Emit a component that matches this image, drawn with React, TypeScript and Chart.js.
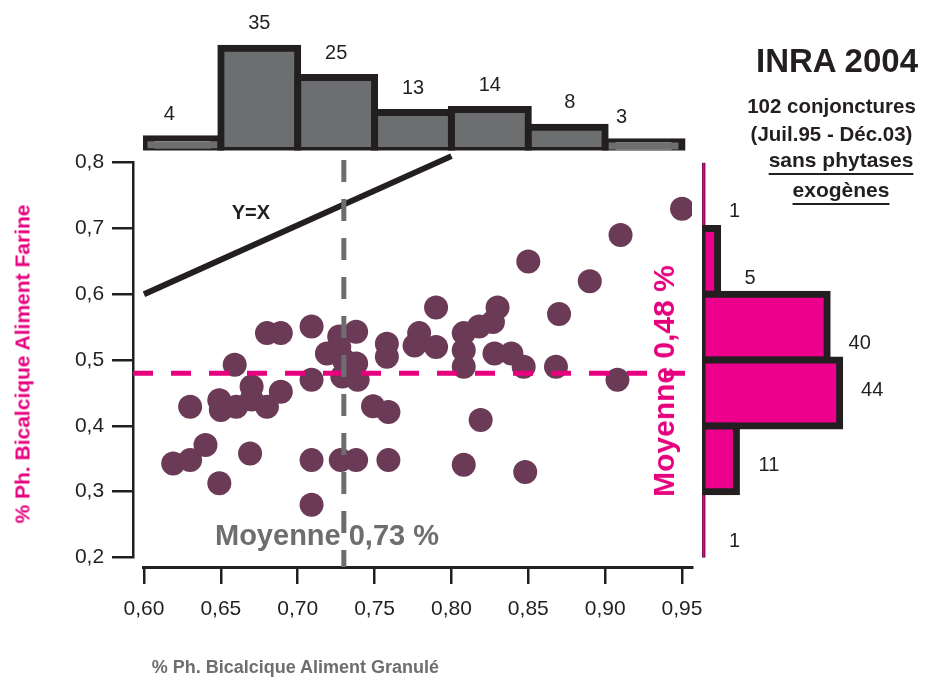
import React, { useEffect, useRef } from 'react';
import { Chart, registerables } from 'chart.js';

Chart.register(...registerables);

// ---------- data ----------
const xTicks = [0.6, 0.65, 0.7, 0.75, 0.8, 0.85, 0.9, 0.95];
const yTicks = [0.2, 0.3, 0.4, 0.5, 0.6, 0.7, 0.8];

const pointsX = [
  0.95, 0.91, 0.85, 0.89, 0.79, 0.83, 0.87, 0.827, 0.818, 0.779, 0.776, 0.79,
  0.808, 0.808, 0.808, 0.828, 0.839, 0.847, 0.868, 0.908, 0.819, 0.808, 0.848,
  0.758, 0.758, 0.749, 0.759, 0.759, 0.68, 0.689, 0.709, 0.738, 0.727, 0.719,
  0.727, 0.738, 0.729, 0.739, 0.709, 0.73, 0.659, 0.67, 0.689, 0.63, 0.649,
  0.65, 0.66, 0.68, 0.67, 0.619, 0.63, 0.64, 0.669, 0.649, 0.709, 0.728, 0.738,
  0.709,
];
const pointsY = [
  0.73, 0.69, 0.65, 0.62, 0.58, 0.58, 0.57, 0.558, 0.551, 0.541, 0.522, 0.52,
  0.541, 0.515, 0.49, 0.51, 0.51, 0.49, 0.49, 0.47, 0.409, 0.341, 0.33,
  0.525, 0.505, 0.43, 0.421, 0.348, 0.541, 0.541, 0.551, 0.543, 0.536, 0.51,
  0.52, 0.495, 0.475, 0.47, 0.47, 0.5, 0.493, 0.46, 0.452, 0.429, 0.439,
  0.424, 0.429, 0.429, 0.44, 0.343, 0.348, 0.371, 0.358, 0.313, 0.348, 0.348, 0.348,
  0.28,
];

const topBins = [0.625, 0.675, 0.725, 0.775, 0.825, 0.875, 0.925];
const topCounts = [4, 35, 25, 13, 14, 8, 3];

const rightBins = [0.75, 0.25, 0.65, 0.55, 0.45, 0.35];
const rightCounts = [1, 1, 5, 40, 44, 11];

const meanX = 0.73;
const meanY = 0.48;
const lineYX_x = [0.6, 0.8];
const lineYX_y = [0.6, 0.81];

// ---------- layout / style constants ----------
const W = 930;
const H = 677;
const FONT = '"Liberation Sans", Arial, Helvetica, sans-serif';
const DARK = '#231f20';
const GRAY = '#6d6e70';
const MAGENTA = '#e6007e';
const PINK = '#ec008c';
const POINT = '#6b3a56';

const X_MIN = 0.59935;
const X_MAX = 0.95649;
const Y_MIN = 0.2;
const Y_MAX = 0.8;
const X_AXIS_AT = 0.18556;
const Y_AXIS_AT = 0.592857;
const Y_LABELS_AT = 0.574026;

const topLabelDx = [-13, 0, 0, 0, 0, 3, -22];
const rightLabelDy = [16, 17, 17.5, 16.7, -3, 6.6];

function countLabels(counts: number[], horizontal: boolean, dx: number[], dy: number[]) {
  return {
    id: 'countLabels',
    afterDatasetsDraw(chart: any) {
      const meta = chart.getDatasetMeta(0);
      const ctx = chart.ctx;
      ctx.save();
      ctx.font = `20px ${FONT}`;
      ctx.fillStyle = DARK;
      ctx.textAlign = 'center';
      ctx.textBaseline = 'middle';
      meta.data.forEach((el: any, i: number) => {
        const inf = Number(el.options.inflateAmount) || 0;
        if (horizontal) {
          ctx.fillText(String(counts[i]), el.x + inf + 29 + (dx[i] || 0), el.y + (dy[i] || 0));
        } else {
          ctx.fillText(String(counts[i]), el.x + (dx[i] || 0), el.y - inf - 21 + (dy[i] || 0));
        }
      });
      ctx.restore();
    },
  };
}

const baseOptions = {
  responsive: false,
  animation: false as const,
  devicePixelRatio: 1,
  events: [] as any[],
  plugins: { legend: { display: false }, tooltip: { enabled: false } },
};

function Txt(props: {
  x: number;
  base: number;
  size: number;
  bold?: boolean;
  color?: string;
  align?: 'left' | 'center';
  underline?: boolean;
  children: React.ReactNode;
}) {
  const { x, base, size, bold, color, align, underline, children } = props;
  return (
    <div
      style={{
        position: 'absolute',
        left: x,
        top: base - 0.8465 * size,
        fontFamily: FONT,
        fontSize: size,
        lineHeight: `${size}px`,
        fontWeight: bold ? 700 : 400,
        color: color || DARK,
        whiteSpace: 'nowrap',
        transform: align === 'center' ? 'translateX(-50%)' : undefined,
        textDecoration: underline ? 'underline' : undefined,
        textDecorationThickness: underline ? '2px' : undefined,
        textUnderlineOffset: underline ? '6px' : undefined,
      }}
    >
      {children}
    </div>
  );
}

function VTxt(props: { cx: number; cy: number; size: number; color: string; children: React.ReactNode }) {
  return (
    <div
      style={{
        position: 'absolute',
        left: props.cx,
        top: props.cy,
        fontFamily: FONT,
        fontSize: props.size,
        lineHeight: `${props.size}px`,
        fontWeight: 700,
        color: props.color,
        whiteSpace: 'nowrap',
        transform: 'translate(-50%, -50%) rotate(-90deg)',
      }}
    >
      {props.children}
    </div>
  );
}

export default function App() {
  const mainRef = useRef<HTMLCanvasElement>(null);
  const topRef = useRef<HTMLCanvasElement>(null);
  const rightRef = useRef<HTMLCanvasElement>(null);

  useEffect(() => {
    const points = pointsX.map((x, i) => ({ x, y: pointsY[i] }));
    const setYTicks = (s: any) => {
      s.ticks = yTicks.map((v) => ({ value: v }));
    };

    const main = new Chart(mainRef.current as HTMLCanvasElement, {
      type: 'scatter',
      data: {
        datasets: [
          {
            data: [
              { x: meanX, y: 0.8041 },
              { x: meanX, y: X_AXIS_AT },
            ],
            showLine: true,
            borderColor: GRAY,
            borderWidth: 5,
            borderDash: [22, 17],
            pointRadius: 0,
            clip: false,
            order: 0,
          } as any,
          {
            data: [
              { x: Y_AXIS_AT, y: meanY },
              { x: 0.9609, y: meanY },
            ],
            showLine: true,
            borderColor: MAGENTA,
            borderWidth: 5,
            borderDash: [20, 18],
            pointRadius: 0,
            clip: false,
            order: 0,
          } as any,
          {
            data: lineYX_x.map((x, i) => ({ x, y: lineYX_y[i] })),
            showLine: true,
            borderColor: DARK,
            borderWidth: 6,
            pointRadius: 0,
            clip: false,
            order: 0,
          } as any,
          {
            data: points,
            pointRadius: 12,
            pointBackgroundColor: POINT,
            pointBorderWidth: 0,
            backgroundColor: POINT,
            borderColor: POINT,
            order: 1,
          } as any,
        ],
      },
      options: {
        ...baseOptions,
        layout: { padding: { left: 143, right: W - 692, top: 162.7, bottom: H - 557.5 } },
        scales: {
          x: {
            type: 'linear',
            min: X_MIN,
            max: X_MAX,
            position: { y: X_AXIS_AT } as any,
            afterBuildTicks: (s: any) => {
              s.ticks = xTicks.map((v) => ({ value: v }));
            },
            ticks: {
              callback: (v: any) => Number(v).toFixed(2).replace('.', ','),
              font: { family: FONT, size: 21 },
              color: DARK,
              padding: 15,
              maxRotation: 0,
              autoSkip: false,
            },
            grid: { drawOnChartArea: false, drawTicks: true, tickLength: 15, color: DARK, lineWidth: 2.5 },
            border: { display: true, color: DARK, width: 3 },
          } as any,
          y: {
            type: 'linear',
            min: Y_MIN,
            max: Y_MAX,
            position: { x: Y_AXIS_AT } as any,
            afterBuildTicks: setYTicks,
            ticks: { display: false },
            grid: { drawOnChartArea: false, drawTicks: true, tickLength: 20, color: DARK, lineWidth: 2.5 },
            border: { display: true, color: DARK, width: 2.5 },
          } as any,
          yLabels: {
            axis: 'y',
            type: 'linear',
            min: Y_MIN,
            max: Y_MAX,
            position: { x: Y_LABELS_AT } as any,
            afterBuildTicks: setYTicks,
            ticks: {
              callback: (v: any) => Number(v).toFixed(1).replace('.', ','),
              font: { family: FONT, size: 21 },
              color: DARK,
              autoSkip: false,
            },
            grid: { display: false, drawTicks: false },
            border: { display: false },
          } as any,
        },
      } as any,
    });

    const top = new Chart(topRef.current as HTMLCanvasElement, {
      type: 'bar',
      data: {
        datasets: [
          {
            data: topBins.map((x, i) => ({ x, y: topCounts[i] })),
            backgroundColor: GRAY,
            borderColor: DARK,
            borderWidth: 7,
            borderSkipped: false,
            inflateAmount: 3.5,
            categoryPercentage: 1,
            barPercentage: 1,
          } as any,
        ],
      },
      options: {
        ...baseOptions,
        layout: { padding: { left: 143, right: W - 692, top: 150.5 - 40 * 2.92, bottom: H - 150.5 } },
        scales: {
          x: { type: 'linear', min: X_MIN, max: X_MAX, offset: false, display: false },
          y: { type: 'linear', min: 0, max: 40, display: false },
        },
      } as any,
      plugins: [countLabels(topCounts, false, topLabelDx, [])],
    });

    const right = new Chart(rightRef.current as HTMLCanvasElement, {
      type: 'bar',
      data: {
        datasets: [
          {
            data: rightBins.map((y, i) => ({ x: rightCounts[i], y })),
            backgroundColor: PINK,
            borderColor: DARK,
            borderWidth: (c: any) => (c.raw && c.raw.x <= 1 ? 1 : 7),
            inflateAmount: (c: any) => (c.raw && c.raw.x <= 1 ? 0.5 : 3.5),
            borderSkipped: false,
            categoryPercentage: 1,
            barPercentage: 1,
          } as any,
        ],
      },
      options: {
        ...baseOptions,
        indexAxis: 'y',
        layout: { padding: { left: 702, right: W - (702 + 50 * 3.13), top: 162.7, bottom: H - 557.5 } },
        scales: {
          x: { type: 'linear', min: 0, max: 50, display: false },
          y: { type: 'linear', min: Y_MIN, max: Y_MAX, offset: false, display: false },
        },
      } as any,
      plugins: [countLabels(rightCounts, true, [], rightLabelDy)],
    });

    return () => {
      main.destroy();
      top.destroy();
      right.destroy();
    };
  }, []);

  const cv: React.CSSProperties = { position: 'absolute', left: 0, top: 0, width: W, height: H };

  return (
    <div style={{ position: 'fixed', left: 0, top: 0, width: W, height: H, background: '#ffffff', overflow: 'hidden' }}>
      <canvas ref={mainRef} width={W} height={H} style={cv} />
      <canvas ref={topRef} width={W} height={H} style={cv} />
      <canvas ref={rightRef} width={W} height={H} style={cv} />

      <Txt x={837} base={71.7} size={33} bold align="center">INRA 2004</Txt>
      <Txt x={831.5} base={113.3} size={20.5} bold align="center">102 conjonctures</Txt>
      <Txt x={831.5} base={141} size={20.5} bold align="center">(Juil.95 - Déc.03)</Txt>
      <Txt x={841} base={167} size={21} bold align="center" underline>sans phytases</Txt>
      <Txt x={841} base={197} size={21} bold align="center" underline>exogènes</Txt>

      <Txt x={231.7} base={219.3} size={20} bold>Y=X</Txt>
      <Txt x={215} base={546} size={29} bold color={GRAY}>Moyenne 0,73 %</Txt>
      <Txt x={151.7} base={673.3} size={18} bold color={GRAY}>% Ph. Bicalcique Aliment Granulé</Txt>

      <VTxt cx={664} cy={381} size={30} color={MAGENTA}>Moyenne 0,48 %</VTxt>
      <VTxt cx={22} cy={364} size={21} color={MAGENTA}>% Ph. Bicalcique Aliment Farine</VTxt>
    </div>
  );
}
